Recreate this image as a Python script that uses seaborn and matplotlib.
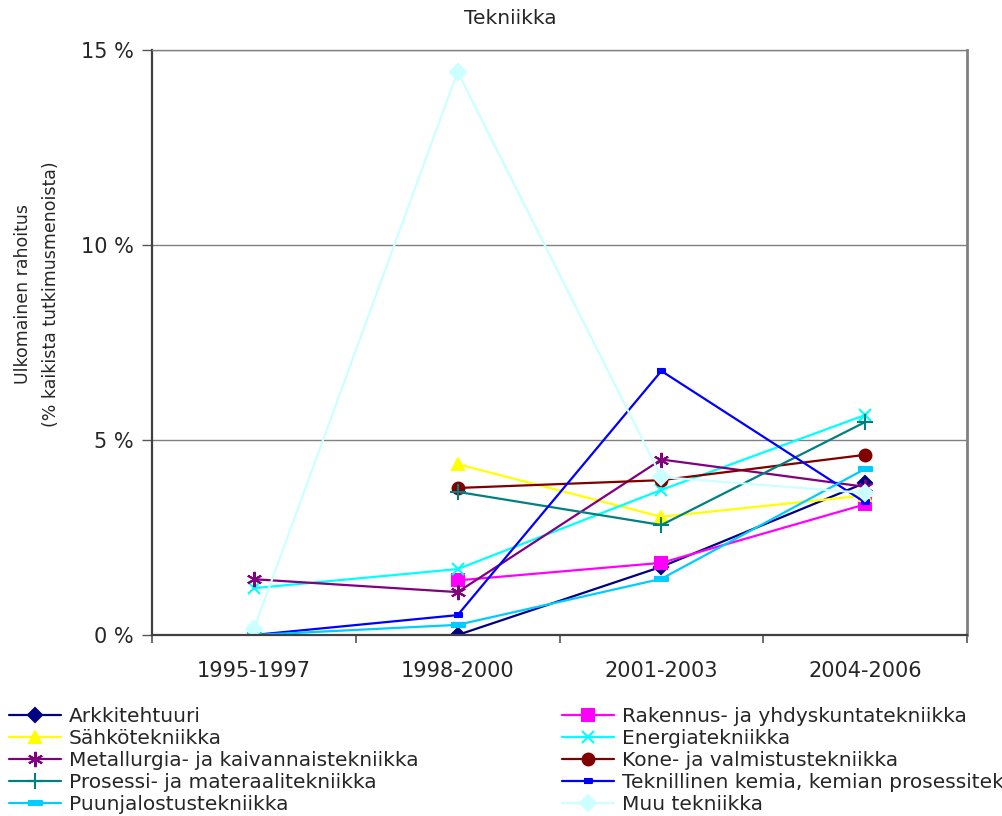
"""
Tekniikka: ulkomainen rahoitus tieteenaloittain (% kaikista tutkimusmenoista).
"""
import numpy as np
import pandas as pd
import matplotlib.pyplot as plt
import seaborn as sns

# ──────────────────────────────────────────
# DATA
# ──────────────────────────────────────────
periods = ['1995-1997', '1998-2000', '2001-2003', '2004-2006']

arkkitehtuuri = [np.nan, 0.0, 1.75, 3.9]
rakennus = [np.nan, 1.4, 1.85, 3.35]
sahko = [np.nan, 4.38, 3.03, 3.58]
energia = [1.2, 1.69, 3.72, 5.64]
metallurgia = [1.43, 1.1, 4.5, 3.8]
kone = [np.nan, 3.77, 3.97, 4.62]
prosessi = [np.nan, 3.67, 2.82, 5.46]
kemia = [0.0, 0.51, 6.77, 3.4]
puunjalostus = [0.0, 0.26, 1.44, 4.26]
muu = [0.15, 14.44, 4.05, 3.64]

names = [
    'Arkkitehtuuri',
    'Rakennus- ja yhdyskuntatekniikka',
    'Sähkötekniikka',
    'Energiatekniikka',
    'Metallurgia- ja kaivannaistekniikka',
    'Kone- ja valmistustekniikka',
    'Prosessi- ja materaalitekniikka',
    'Teknillinen kemia, kemian prosessitekniikka',
    'Puunjalostustekniikka',
    'Muu tekniikka',
]
all_values = [arkkitehtuuri, rakennus, sahko, energia, metallurgia,
              kone, prosessi, kemia, puunjalostus, muu]

rows = []
for name, vals in zip(names, all_values):
    for i, v in enumerate(vals):
        rows.append({'ala': name, 'pos': i, 'arvo': v})
df = pd.DataFrame(rows).dropna()

# ──────────────────────────────────────────
# TYYLIT
# ──────────────────────────────────────────
short_bar = [(-1, -0.45), (1, -0.45), (1, 0.45), (-1, 0.45)]
long_bar = [(-1, -0.3), (1, -0.3), (1, 0.3), (-1, 0.3)]

styles = {
    'Arkkitehtuuri': ('#000080', 'D', 7.5),
    'Rakennus- ja yhdyskuntatekniikka': ('#FF00FF', 's', 8),
    'Sähkötekniikka': ('#FFFF00', '^', 9),
    'Energiatekniikka': ('#00FFFF', 'x', 9),
    'Metallurgia- ja kaivannaistekniikka': ('#800080', (6, 2, 0), 11),
    'Kone- ja valmistustekniikka': ('#800000', 'o', 8.5),
    'Prosessi- ja materaalitekniikka': ('#008080', '+', 11),
    'Teknillinen kemia, kemian prosessitekniikka': ('#0000FF', short_bar, 6),
    'Puunjalostustekniikka': ('#00CCFF', long_bar, 10),
    'Muu tekniikka': ('#CCFFFF', 'D', 8),
}

sns.set_style('white')
plt.rcParams['font.family'] = ['DejaVu Sans']

fig = plt.figure(figsize=(10.02, 8.16), dpi=100)
ax = fig.add_axes([152 / 1002, 1 - 635 / 816, 815 / 1002, 585 / 816])

handles = {}
for name in names:
    color, marker, ms = styles[name]
    sub = df[df['ala'] == name]
    sns.lineplot(data=sub, x='pos', y='arvo', ax=ax, color=color,
                 marker=marker, markersize=ms, linewidth=1.6,
                 markeredgecolor=color, markerfacecolor=color,
                 markeredgewidth=1.5, label=name, legend=False)
    handles[name] = ax.get_lines()[-1]

ax.set_xlim(-0.5, 3.5)
ax.set_ylim(0, 15)
ax.set_xlabel('')
ax.set_ylabel('')

ax.set_xticks(range(len(periods)))
ax.set_xticklabels(periods, fontsize=15)
ax.set_xticks(np.arange(-0.5, 4, 1), minor=True)
ax.tick_params(axis='x', which='major', length=0, pad=19)
ax.tick_params(axis='x', which='minor', length=6, width=1.2,
               color='#555555', direction='out', bottom=True)

ax.set_yticks([0, 5, 10, 15])
ax.set_yticklabels(['0 %', '5 %', '10 %', '15 %'], fontsize=15)
ax.tick_params(axis='y', length=7, width=1.0, color='#555555',
               direction='out', left=True, pad=6)

ax.yaxis.grid(True, color='#808080', linewidth=1.0)
ax.xaxis.grid(False)
ax.set_axisbelow(True)

for side in ['left', 'bottom']:
    ax.spines[side].set_color('#404040')
    ax.spines[side].set_linewidth(1.6)
ax.spines['right'].set_color('#808080')
ax.spines['right'].set_linewidth(2)
ax.spines['top'].set_color('#808080')
ax.spines['top'].set_linewidth(1.0)

fig.text(0.509, 1 - 18 / 816, 'Tekniikka', ha='center', va='center',
         fontsize=14.5)
fig.text(37 / 1002, 1 - 294 / 816,
         'Ulkomainen rahoitus\n(% kaikista tutkimusmenoista)',
         rotation=90, ha='center', va='center', multialignment='center',
         fontsize=12.5, linespacing=1.75)

# legenda kahteen sarakkeeseen
col1 = names[0::2]
col2 = names[1::2]
leg_kw = dict(frameon=False, fontsize=14.5, labelspacing=0.15,
              handlelength=2.6, handletextpad=0.38, borderpad=0,
              borderaxespad=0, loc='upper left')
fig.legend([handles[n] for n in col1], col1,
           bbox_to_anchor=(9 / 1002, 1 - 707 / 816), **leg_kw)
fig.legend([handles[n] for n in col2], col2,
           bbox_to_anchor=(562 / 1002, 1 - 707 / 816), **leg_kw)

fig.savefig('out.png', dpi=100)
